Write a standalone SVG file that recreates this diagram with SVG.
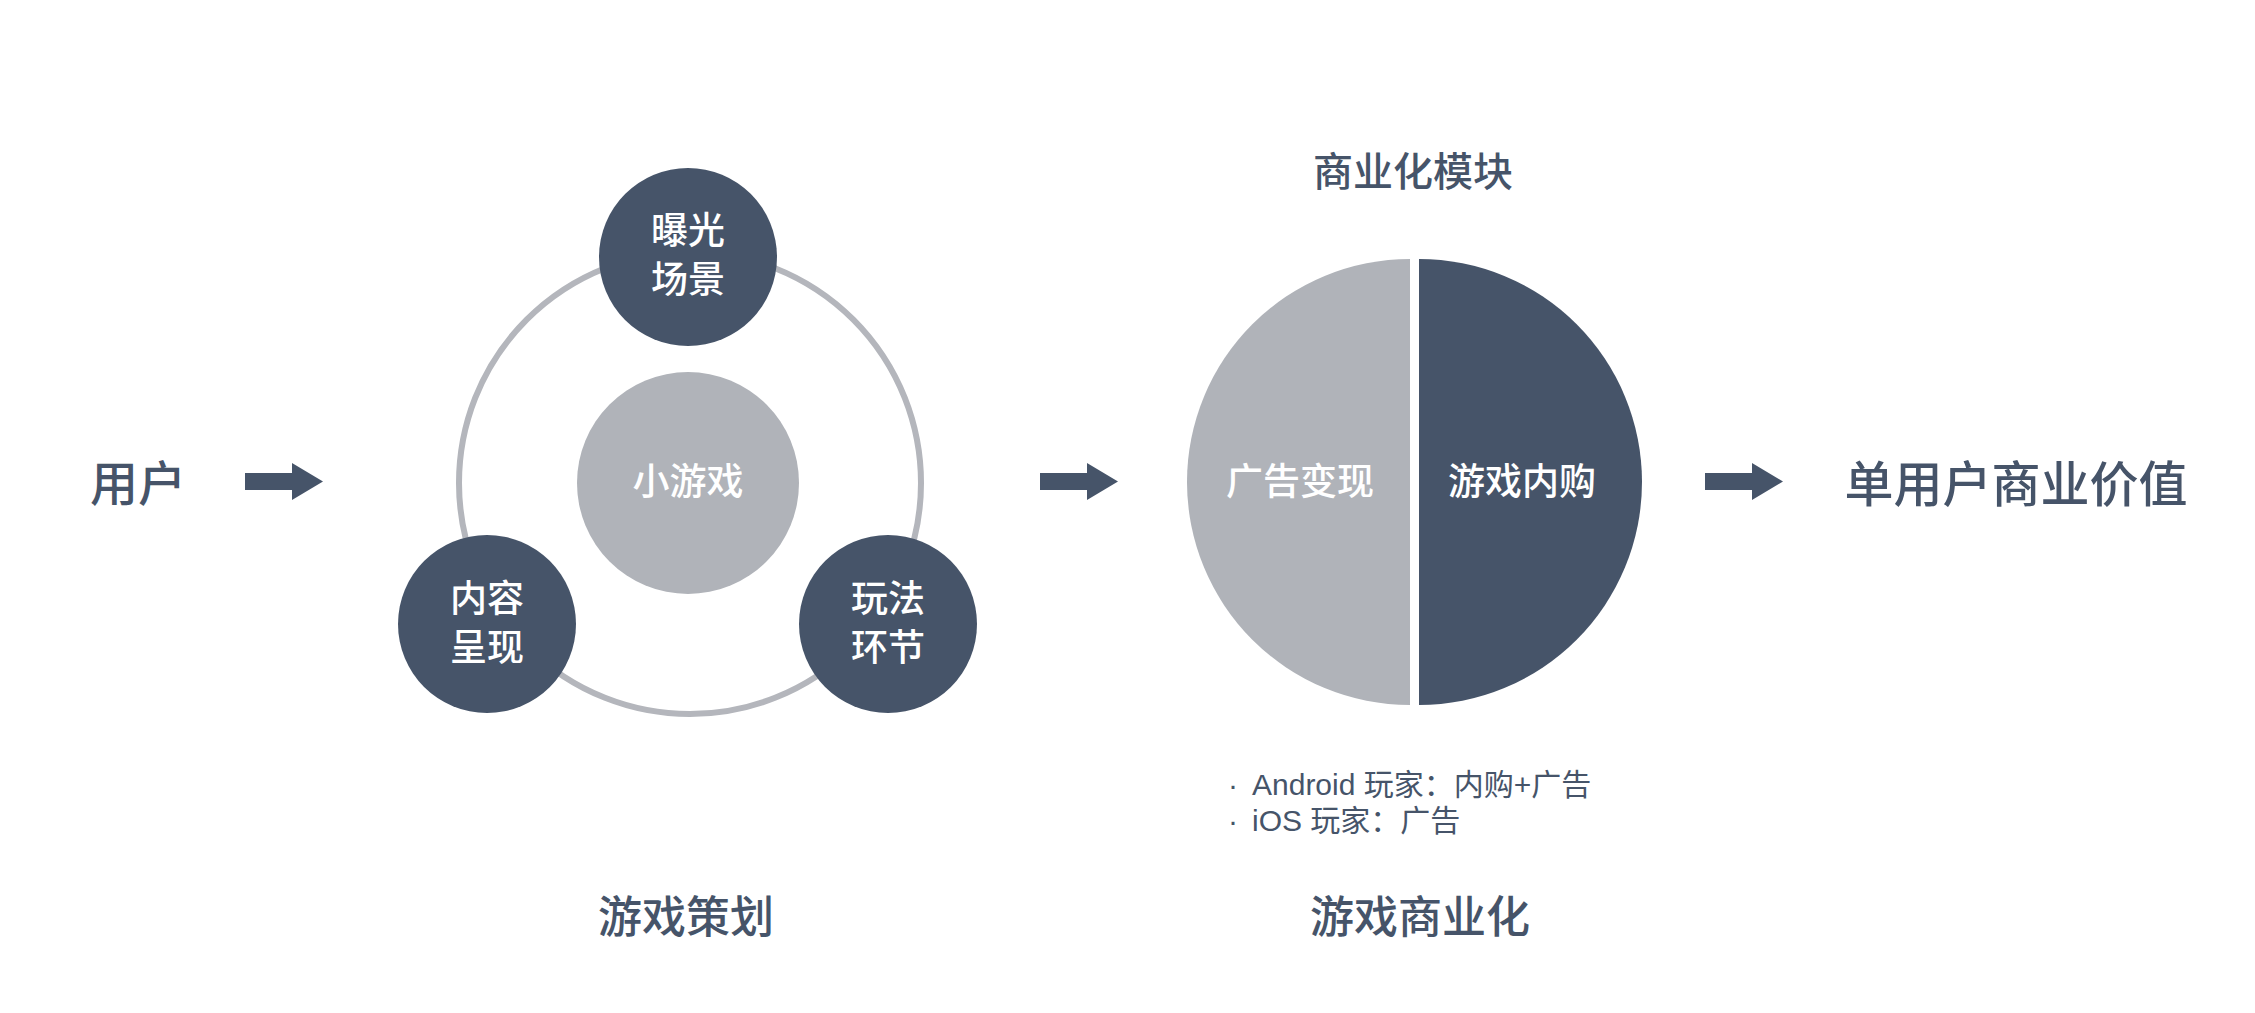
<svg xmlns="http://www.w3.org/2000/svg" width="2255" height="1013" viewBox="0 0 2255 1013">
<defs>
<style>
text{font-family:"Noto Sans CJK SC","Liberation Sans",sans-serif;dominant-baseline:central;text-anchor:middle}
.dark{fill:#465469}
.gray{fill:#b0b3b9}
.wt{fill:#ffffff;font-size:37px;font-weight:500}
.lbl{fill:#465469;font-weight:500}
.note{fill:#465469;font-size:30px;text-anchor:start;font-family:"Liberation Sans","Noto Sans CJK SC",sans-serif}
.arrow{fill:#465469}
</style>
<path id="arr" d="M0,-8.5 H47 V-18.5 L78,0 L47,18.5 V8.5 H0 Z"/>
</defs>
<rect width="2255" height="1013" fill="#ffffff"/>
<g id="connectors">
<use href="#arr" class="arrow" x="245" y="481.5"/>
<use href="#arr" class="arrow" x="1040" y="481.5"/>
<use href="#arr" class="arrow" x="1705" y="481.5"/>
</g>
<g id="user"><text class="lbl" x="138" y="480" font-size="48">用户</text></g>
<g id="ring"><circle cx="690" cy="483" r="231" fill="none" stroke="#b4b6bc" stroke-width="6"/></g>
<g id="mini-game"><circle cx="688" cy="483" r="111" class="gray"/><text class="wt" x="688" y="479" font-size="38" font-weight="700">小游戏</text></g>
<g id="exposure"><circle cx="688" cy="257" r="89" class="dark"/><text class="wt" x="688" y="228">曝光</text><text class="wt" x="688" y="277">场景</text></g>
<g id="content"><circle cx="487" cy="624" r="89" class="dark"/><text class="wt" x="487" y="596">内容</text><text class="wt" x="487" y="645">呈现</text></g>
<g id="gameplay"><circle cx="888" cy="624" r="89" class="dark"/><text class="wt" x="888" y="596">玩法</text><text class="wt" x="888" y="645">环节</text></g>
<g id="plan-title"><text class="lbl" x="686" y="914" font-size="44">游戏策划</text></g>
<g id="biz-module-title"><text class="lbl" x="1413" y="169" font-size="40">商业化模块</text></g>
<g id="ads"><path d="M1410,259 A223,223 0 0 0 1410,705 Z" class="gray"/><text class="wt" x="1300" y="479" font-size="39">广告变现</text></g>
<g id="iap"><path d="M1419,259 A223,223 0 0 1 1419,705 Z" class="dark"/><text class="wt" x="1522" y="479" font-size="39">游戏内购</text></g>
<g id="notes">
<text class="note" x="1228" y="784">·</text><text class="note" x="1252" y="784">Android 玩家：内购+广告</text>
<text class="note" x="1228" y="820">·</text><text class="note" x="1252" y="820">iOS 玩家：广告</text>
</g>
<g id="biz-title"><text class="lbl" x="1420" y="914" font-size="44">游戏商业化</text></g>
<g id="value"><text class="lbl" x="2016" y="480" font-size="49">单用户商业价值</text></g>
</svg>
